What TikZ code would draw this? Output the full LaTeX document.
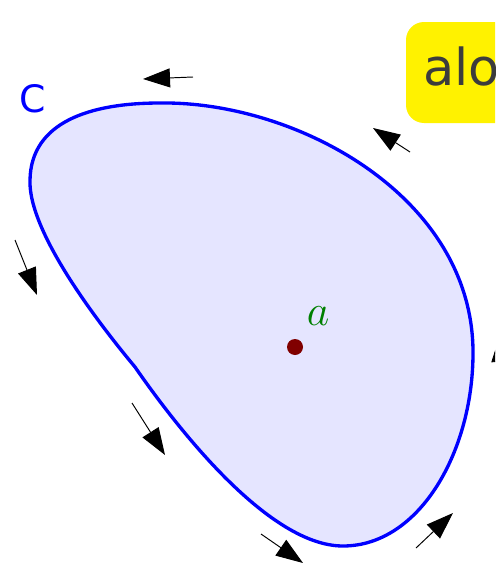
\documentclass[tikz,border=0pt]{standalone}
\usepackage{fontspec}
\usepackage{amsmath}
\usepackage{tikz}
\usetikzlibrary{arrows.meta}
\newfontfamily\dejavu{DejaVu Sans}
\definecolor{dotred}{HTML}{800000}
\definecolor{agreen}{HTML}{008000}
\definecolor{regionfill}{HTML}{E5E5FF}
\definecolor{boxtext}{HTML}{3C3C3C}

\begin{document}
\begin{tikzpicture}[x=0.02cm, y=-0.02cm,
    flowarrow/.style = {line width=0.55pt, -{Triangle[length=0.54cm, width=0.38cm]}}]
  % Frame
  \useasboundingbox (0,0) rectangle (495,568);
  \clip (0,0) rectangle (495,568);

  % Region bounded by the curve C
  \draw[line width=1.9pt, blue, fill=regionfill]
    (135,367) .. controls (100,325) and (28,232) .. (30,180)
    .. controls (31,122) and (90,103) .. (160,103)
    .. controls (295,101) and (471,195) .. (473,350)
    .. controls (474,450) and (420,546) .. (343,546)
    .. controls (270,546) and (180,432) .. (135,367) -- cycle;

  % Label of the curve
  \node[blue, font=\dejavu\fontsize{21.5}{24}\selectfont, anchor=base] (labelC) at (33,112) {C};

  % Point a
  \fill[dotred] (295,347) circle (8);
  \node[agreen, font=\fontsize{24}{28}\selectfont, anchor=base] (labelA) at (318,325) {$a$};

  % Yellow box, cut at the right edge
  \draw[fill=yellow, draw=none, rounded corners=0.36cm] (406,22) rectangle (560,123);
  \node[boxtext, font=\dejavu\fontsize{29}{32}\selectfont, anchor=base west, inner sep=0pt] (note) at (423,85) {alo};

  % Arrows along the curve (counterclockwise)
  \draw[flowarrow] (193,77) -- (143,79);
  \draw[flowarrow] (410,152) -- (373,128);
  \draw[flowarrow] (502,396) -- (500,335);
  \draw[flowarrow] (416,548) -- (453,513);
  \draw[flowarrow] (261,534) -- (303,563);
  \draw[flowarrow] (132,403) -- (165,455);
  \draw[flowarrow] (15,240) -- (37,295);

\end{tikzpicture}
\end{document}
